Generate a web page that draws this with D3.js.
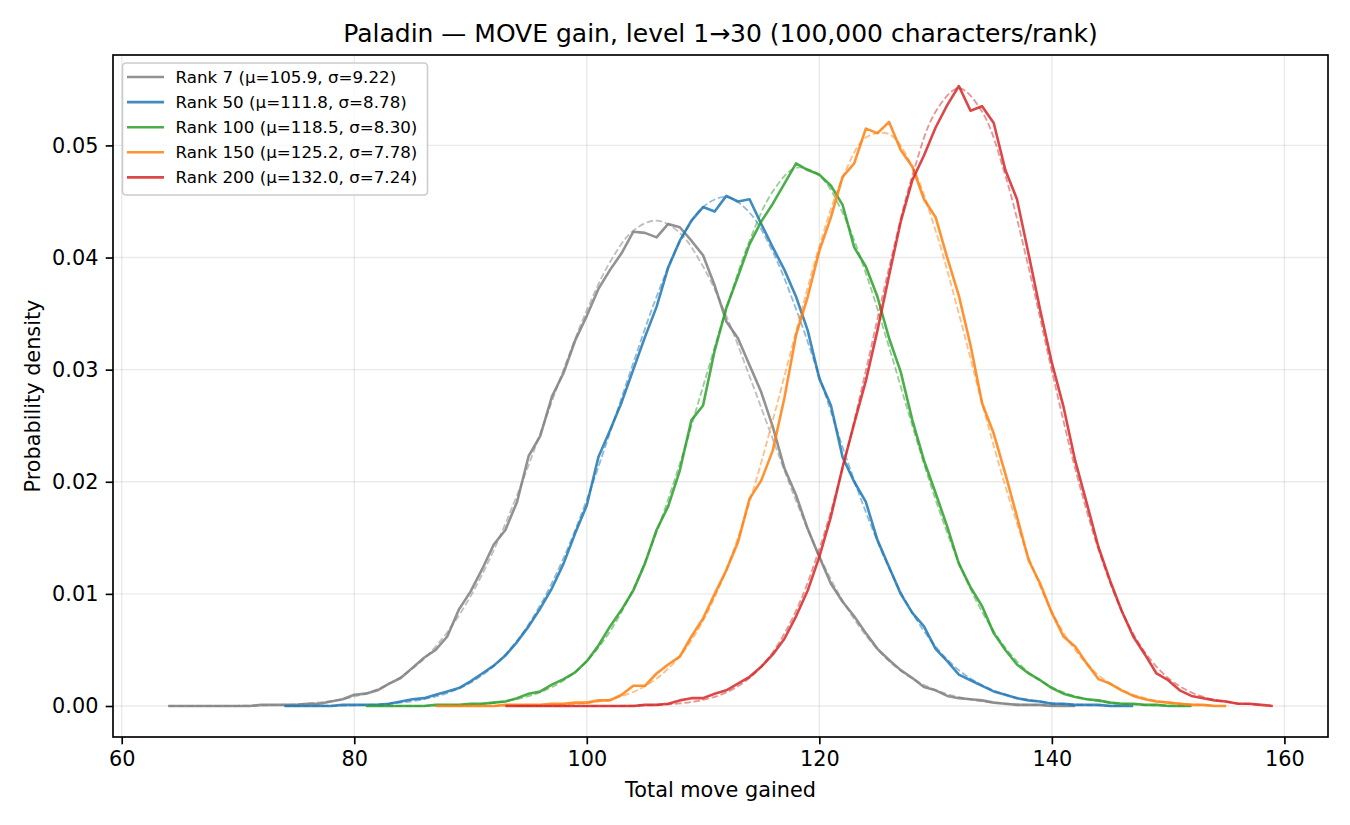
<!DOCTYPE html>
<html>
<head>
<meta charset="utf-8">
<script src="https://cdn.jsdelivr.net/npm/d3@7"></script>
<style>
  body { margin: 0; background: #fff; }
  svg { font-family: "DejaVu Sans", sans-serif; }
</style>
</head>
<body>
<svg width="1350" height="825"></svg>
<script>
  // rank labels and the fitted normal parameters shown in the legend
  const ranks = [7, 50, 100, 150, 200];
  const mus = [105.9, 111.8, 118.5, 125.2, 132.0];
  const sigmas = [9.22, 8.78, 8.30, 7.78, 7.24];

  // observed densities, one value per integer of total move, from the start value
  const rank7Start = 64;
  const rank7Density = [
    0, 0, 0, 0, 0, 0, 0, 0,
    0.0001, 0.0001, 0.0001, 0.0001, 0.0002, 0.0002, 0.0004, 0.0006,
    0.0010, 0.0011, 0.0014, 0.0020, 0.0025, 0.0034, 0.0043, 0.0050, 0.0062, 0.0086,
    0.0102, 0.0122, 0.0144, 0.0157, 0.0182, 0.0223, 0.0241, 0.0276, 0.0297, 0.0326,
    0.0348, 0.0372, 0.0389, 0.0404, 0.0423, 0.0422, 0.0418, 0.0430, 0.0427, 0.0415,
    0.0402, 0.0375, 0.0343, 0.0328, 0.0304, 0.0280, 0.0249, 0.0212, 0.0188, 0.0158,
    0.0133, 0.0109, 0.0093, 0.0080, 0.0065, 0.0051, 0.0041, 0.0032, 0.0025, 0.0017,
    0.0014, 0.0009, 0.0007, 0.0006, 0.0005, 0.0003, 0.0002, 0.0001, 0.0001, 0.0001,
    0, 0, 0
  ];
  const rank50Start = 74;
  const rank50Density = [
    0, 0, 0, 0, 0,
    0.0001, 0.0001, 0.0001, 0.0001, 0.0002, 0.0004, 0.0006, 0.0007, 0.0010, 0.0013, 0.0016,
    0.0022, 0.0029, 0.0036, 0.0045, 0.0057, 0.0071, 0.0087, 0.0105, 0.0127, 0.0154,
    0.0179, 0.0222, 0.0246, 0.0271, 0.0300, 0.0329, 0.0356, 0.0391, 0.0415, 0.0433,
    0.0445, 0.0441, 0.0455, 0.0450, 0.0452, 0.0430, 0.0409, 0.0389, 0.0365, 0.0335,
    0.0292, 0.0268, 0.0222, 0.0200, 0.0182, 0.0148, 0.0124, 0.0100, 0.0083, 0.0071,
    0.0051, 0.0040, 0.0028, 0.0023, 0.0018, 0.0013, 0.0010, 0.0007, 0.0005, 0.0004,
    0.0002, 0.0002, 0.0001, 0.0001, 0.0001, 0, 0, 0
  ];
  const rank100Start = 81;
  const rank100Density = [
    0, 0, 0, 0, 0, 0, 0.0001, 0.0001, 0.0001,
    0.0002, 0.0002, 0.0003, 0.0004, 0.0007, 0.0011, 0.0013, 0.0019, 0.0024, 0.0030,
    0.0040, 0.0054, 0.0071, 0.0086, 0.0103, 0.0127, 0.0157, 0.0178, 0.0210, 0.0255,
    0.0268, 0.0317, 0.0355, 0.0383, 0.0412, 0.0432, 0.0448, 0.0466, 0.0484, 0.0478,
    0.0474, 0.0464, 0.0447, 0.0409, 0.0392, 0.0365, 0.0328, 0.0298, 0.0255, 0.0219,
    0.0190, 0.0160, 0.0127, 0.0106, 0.0089, 0.0065, 0.0050, 0.0037, 0.0029, 0.0023,
    0.0016, 0.0011, 0.0008, 0.0006, 0.0005, 0.0003, 0.0002, 0.0002, 0.0001, 0.0001,
    0, 0, 0
  ];
  const rank150Start = 87;
  const rank150Density = [
    0, 0, 0,
    0, 0, 0, 0.0001, 0.0001, 0.0001, 0.0001, 0.0002, 0.0002, 0.0003,
    0.0003, 0.0005, 0.0005, 0.0010, 0.0018, 0.0018, 0.0029, 0.0037, 0.0044, 0.0062,
    0.0078, 0.0100, 0.0121, 0.0146, 0.0185, 0.0201, 0.0228, 0.0275, 0.0331, 0.0365,
    0.0406, 0.0436, 0.0472, 0.0484, 0.0515, 0.0511, 0.0521, 0.0496, 0.0481, 0.0452,
    0.0436, 0.0400, 0.0366, 0.0322, 0.0270, 0.0243, 0.0207, 0.0169, 0.0130, 0.0109,
    0.0083, 0.0062, 0.0053, 0.0038, 0.0024, 0.0020, 0.0014, 0.0009, 0.0006, 0.0004,
    0.0003, 0.0002, 0.0001, 0.0001, 0, 0
  ];
  const rank200Start = 93;
  const rank200Density = [
    0, 0, 0, 0, 0, 0, 0,
    0, 0, 0, 0, 0, 0.0001, 0.0001, 0.0002, 0.0005, 0.0007,
    0.0007, 0.0011, 0.0014, 0.0020, 0.0026, 0.0035, 0.0046, 0.0060, 0.0080, 0.0103,
    0.0133, 0.0169, 0.0213, 0.0252, 0.0290, 0.0335, 0.0384, 0.0432, 0.0469, 0.0491,
    0.0516, 0.0536, 0.0553, 0.0531, 0.0535, 0.0520, 0.0478, 0.0452, 0.0403, 0.0353,
    0.0306, 0.0267, 0.0219, 0.0181, 0.0142, 0.0112, 0.0085, 0.0062, 0.0046, 0.0029,
    0.0023, 0.0014, 0.0009, 0.0007, 0.0005, 0.0004, 0.0002, 0.0002, 0.0001, 0
  ];

  // dashed normal-fit curves, read every 2 units of total move
  const fitStep = 2;
  const rank7FitStart = 64;
  const rank7Fit = [0, 0, 0, 0.00002, 0.00005, 0.00011, 0.00022, 0.00044, 0.00084, 0.0015,
    0.00258, 0.00421, 0.00658, 0.00978, 0.0139, 0.0188, 0.0243, 0.0300, 0.0353, 0.0396,
    0.0424, 0.0433, 0.0422, 0.0392, 0.0348, 0.0294, 0.0238, 0.0183, 0.0134, 0.0094,
    0.0063, 0.0040, 0.00245, 0.00142, 0.00079, 0.00042, 0.00021, 0.0001, 0.00005, 0.00002];
  const rank50FitStart = 74;
  const rank50Fit = [0, 0.00001, 0.00003, 0.00006, 0.00014, 0.0003, 0.00061, 0.00115, 0.00208, 0.00357,
    0.00582, 0.0090, 0.0132, 0.0184, 0.0244, 0.0306, 0.0365, 0.0414, 0.0445, 0.0454,
    0.0440, 0.0405, 0.0354, 0.0294, 0.0231, 0.0173, 0.0123, 0.0083, 0.0053, 0.0032,
    0.00186, 0.00102, 0.00053, 0.00026, 0.00012, 0.00005, 0.00002];
  const rank100FitStart = 82;
  const rank100Fit = [0, 0.00001, 0.00002, 0.00006, 0.00013, 0.00029, 0.00062, 0.00122, 0.00228, 0.0040,
    0.00666, 0.01045, 0.0155, 0.0216, 0.0285, 0.0354, 0.0415, 0.0459, 0.0480, 0.0473,
    0.0440, 0.0386, 0.0320, 0.0250, 0.0184, 0.0128, 0.0084, 0.0052, 0.0030, 0.00168,
    0.00087, 0.00043, 0.0002, 0.00009, 0.00004, 0.00001];
  const rank150FitStart = 88;
  const rank150Fit = [0, 0, 0.00001, 0.00002, 0.00004, 0.00011, 0.00027, 0.0006, 0.00125, 0.00244,
    0.00445, 0.0076, 0.01216, 0.0182, 0.0255, 0.0334, 0.0410, 0.0471, 0.0507, 0.0510,
    0.0481, 0.0424, 0.0350, 0.0270, 0.0196, 0.0133, 0.0084, 0.0050, 0.00276, 0.00144,
    0.0007, 0.00032, 0.00014, 0.00005];
  const rank200FitStart = 94;
  const rank200Fit = [0, 0, 0, 0, 0.00001, 0.00003, 0.00009, 0.00023, 0.00054, 0.00121,
    0.0025, 0.0048, 0.0085, 0.0140, 0.0212, 0.0299, 0.0391, 0.0473, 0.0530, 0.0551,
    0.0530, 0.0473, 0.0391, 0.0299, 0.0212, 0.0140, 0.0085, 0.0048, 0.0025, 0.00121,
    0.00054, 0.00023, 0.00009];

  const xTicks = [60, 80, 100, 120, 140, 160];
  const yTicks = [0, 0.01, 0.02, 0.03, 0.04, 0.05];

  const colors = ["#7f7f7f", "#1f77b4", "#2ca02c", "#ff7f0e", "#d62728"];

  const toPoints = (start, step, vals) => vals.map((d, i) => ({x: start + i * step, y: d}));

  const series = [
    {obs: toPoints(rank7Start, 1, rank7Density), fit: toPoints(rank7FitStart, fitStep, rank7Fit)},
    {obs: toPoints(rank50Start, 1, rank50Density), fit: toPoints(rank50FitStart, fitStep, rank50Fit)},
    {obs: toPoints(rank100Start, 1, rank100Density), fit: toPoints(rank100FitStart, fitStep, rank100Fit)},
    {obs: toPoints(rank150Start, 1, rank150Density), fit: toPoints(rank150FitStart, fitStep, rank150Fit)},
    {obs: toPoints(rank200Start, 1, rank200Density), fit: toPoints(rank200FitStart, fitStep, rank200Fit)}
  ].map((s, i) => ({...s, rank: ranks[i], mu: mus[i], sigma: sigmas[i], color: colors[i]}));

  const svg = d3.select("svg"),
        width = +svg.attr("width"),
        height = +svg.attr("height"),
        margin = {top: 55, right: 22, bottom: 88, left: 113};

  const allObs = series.flatMap(s => s.obs);
  const xMin = d3.min(allObs, d => d.x), xMax = d3.max(allObs, d => d.x);
  const yMax = d3.max(series.flatMap(s => s.obs.concat(s.fit)), d => d.y);
  const xPad = (xMax - xMin) * 0.05, yPad = yMax * 0.05;

  const x = d3.scaleLinear()
    .domain([xMin - xPad, xMax + xPad])
    .range([margin.left, width - margin.right]);

  const y = d3.scaleLinear()
    .domain([-yPad, yMax + yPad])
    .range([height - margin.bottom, margin.top]);

  // grid
  svg.append("g")
    .selectAll("line")
    .data(xTicks)
    .enter().append("line")
    .attr("x1", d => x(d)).attr("x2", d => x(d))
    .attr("y1", margin.top).attr("y2", height - margin.bottom)
    .attr("stroke", "#b0b0b0").attr("stroke-opacity", 0.27).attr("stroke-width", 1.4);

  svg.append("g")
    .selectAll("line")
    .data(yTicks)
    .enter().append("line")
    .attr("x1", margin.left).attr("x2", width - margin.right)
    .attr("y1", d => y(d)).attr("y2", d => y(d))
    .attr("stroke", "#b0b0b0").attr("stroke-opacity", 0.27).attr("stroke-width", 1.4);

  const line = d3.line().x(d => x(d.x)).y(d => y(d.y));
  const smooth = d3.line().x(d => x(d.x)).y(d => y(d.y)).curve(d3.curveCatmullRom.alpha(0.5));

  const plot = svg.append("g");
  series.forEach(s => {
    plot.append("path")
      .datum(s.obs)
      .attr("d", line)
      .attr("fill", "none")
      .attr("stroke", s.color)
      .attr("stroke-opacity", 0.85)
      .attr("stroke-width", 2.6)
      .attr("stroke-linejoin", "round");
    plot.append("path")
      .datum(s.fit)
      .attr("d", smooth)
      .attr("fill", "none")
      .attr("stroke", s.color)
      .attr("stroke-opacity", 0.5)
      .attr("stroke-width", 1.8)
      .attr("stroke-dasharray", "6.5,2.8");
  });

  // axes
  const xAxis = svg.append("g")
    .attr("transform", `translate(0,${height - margin.bottom})`)
    .call(d3.axisBottom(x).tickValues(xTicks).tickSize(7.3).tickPadding(7.3).tickFormat(d3.format("d")));

  const yAxis = svg.append("g")
    .attr("transform", `translate(${margin.left},0)`)
    .call(d3.axisLeft(y).tickValues(yTicks).tickSize(7.3).tickPadding(7.3).tickFormat(d3.format(".2f")));

  [xAxis, yAxis].forEach(a => {
    a.select(".domain").remove();
    a.selectAll(".tick line").attr("stroke", "#000").attr("stroke-width", 1.67);
    a.selectAll(".tick text")
      .attr("fill", "#000")
      .style("font-family", "DejaVu Sans")
      .style("font-size", "20.8px");
  });

  // frame
  svg.append("rect")
    .attr("x", margin.left).attr("y", margin.top)
    .attr("width", width - margin.left - margin.right)
    .attr("height", height - margin.top - margin.bottom)
    .attr("fill", "none").attr("stroke", "#000").attr("stroke-width", 1.67);

  // labels
  svg.append("text")
    .attr("x", (margin.left + width - margin.right) / 2).attr("y", 42)
    .attr("text-anchor", "middle")
    .style("font-size", "25px")
    .text("Paladin — MOVE gain, level 1→30 (100,000 characters/rank)");

  svg.append("text")
    .attr("x", (margin.left + width - margin.right) / 2).attr("y", 797)
    .attr("text-anchor", "middle")
    .style("font-size", "20.8px")
    .text("Total move gained");

  svg.append("text")
    .attr("transform", `translate(40,${(margin.top + height - margin.bottom) / 2}) rotate(-90)`)
    .attr("text-anchor", "middle")
    .style("font-size", "20.8px")
    .text("Probability density");

  // legend
  const legend = svg.append("g").attr("transform", "translate(122.5,63)");
  legend.append("rect")
    .attr("width", 305).attr("height", 132).attr("rx", 3.5)
    .attr("fill", "#fff").attr("fill-opacity", 0.8)
    .attr("stroke", "#cccccc").attr("stroke-width", 1.6);

  const item = legend.selectAll(".item")
    .data(series)
    .enter().append("g")
    .attr("class", "item")
    .attr("transform", (d, i) => `translate(0,${14 + i * 25.1})`);

  item.append("line")
    .attr("x1", 4.5).attr("x2", 41.5)
    .attr("stroke", d => d.color).attr("stroke-opacity", 0.85).attr("stroke-width", 2.6);

  item.append("text")
    .attr("x", 53).attr("dy", "0.36em")
    .style("font-size", "16.7px")
    .text(d => `Rank ${d.rank} (μ=${d.mu.toFixed(1)}, σ=${d.sigma.toFixed(2)})`);
</script>
</body>
</html>
